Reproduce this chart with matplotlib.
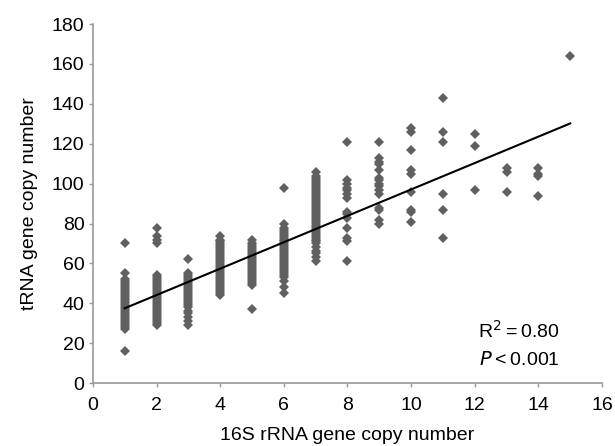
import matplotlib.pyplot as plt

plt.rcParams['font.family'] = ['Liberation Sans', 'DejaVu Sans']

# 16S rRNA copy number -> tRNA gene copy numbers
trna_by_16s = {
    1: [16, 27, 28, 29, 30, 31, 32, 33, 34, 35, 36, 37, 38, 39, 40, 41, 42,
        43, 44, 45, 46, 47, 48, 49, 50, 51, 52, 55, 70],
    2: [29, 30, 31, 32, 33, 34, 35, 36, 37, 38, 39, 40, 41, 42, 43, 44, 45,
        46, 47, 48, 49, 50, 51, 52, 53, 54, 70, 72, 74, 78],
    3: [29, 31, 33, 35, 36, 38, 39, 40, 41, 42, 43, 44, 45, 46, 47, 48, 49,
        50, 51, 52, 53, 54, 55, 62],
    4: [44, 45, 46, 47, 48, 49, 50, 51, 52, 53, 54, 55, 56, 57, 58, 59, 60,
        61, 62, 63, 64, 65, 66, 67, 68, 69, 70, 71, 72, 74],
    5: [37, 49, 50, 51, 52, 53, 54, 55, 56, 57, 58, 59, 60, 61, 62, 63, 64,
        65, 66, 67, 68, 69, 70, 72],
    6: [45, 48, 51, 53, 54, 55, 56, 57, 58, 59, 60, 61, 62, 63, 64, 65, 66,
        67, 68, 69, 70, 71, 72, 73, 74, 75, 76, 77, 78, 80, 98],
    7: [61, 63, 65, 66, 68, 70, 71, 72, 73, 74, 75, 76, 77, 78, 79, 80, 81,
        82, 83, 84, 85, 86, 87, 88, 89, 90, 91, 92, 93, 94, 95, 96, 97, 98,
        99, 100, 101, 102, 103, 104, 106],
    8: [61, 71, 73, 78, 83, 85, 86, 93, 95, 97, 98, 100, 102, 121],
    9: [80, 82, 87, 88, 95, 97, 99, 100, 102, 103, 107, 110, 111, 113, 121],
    10: [81, 86, 87, 96, 105, 107, 117, 126, 128],
    11: [73, 87, 95, 121, 126, 143],
    12: [97, 119, 125],
    13: [96, 106, 108],
    14: [94, 104, 105, 108],
    15: [164],
}

fit_slope = 6.62
fit_intercept = 30.9
fit_x = [1, 15]

fig = plt.figure(figsize=(6.15, 4.46), dpi=100)
ax = fig.add_axes([0.151, 0.141, 0.828, 0.805])

for copies, trna in trna_by_16s.items():
    ax.plot([copies] * len(trna), trna, linestyle='none', marker='D',
            markersize=5.5, color='#606060', markeredgewidth=0)

fit_y = [fit_intercept + fit_slope * x for x in fit_x]
ax.plot(fit_x, fit_y, color='black', linewidth=1.5)

ax.set_xlim(0, 16)
ax.set_ylim(0, 180)
ax.set_xticks(range(0, 17, 2))
ax.set_yticks(range(0, 181, 20))
for side in ('top', 'right'):
    ax.spines[side].set_visible(False)
for side in ('left', 'bottom'):
    ax.spines[side].set_color('#999999')
    ax.spines[side].set_linewidth(1.2)
ax.tick_params(direction='out', length=3, width=1, color='#999999',
               labelsize=14, labelcolor='black', pad=3)
ax.tick_params(axis='x', pad=7)

ax.set_xlabel('16S rRNA gene copy number', fontsize=14, labelpad=9)
ax.set_ylabel('tRNA gene copy number', fontsize=14, labelpad=10)

ax.text(0.917, 0.145, 'R$^2$\u2009=\u20090.80', transform=ax.transAxes,
        ha='right', va='center', fontsize=14)
ax.text(0.917, 0.063, '$P$\u2009<\u20090.001', transform=ax.transAxes,
        ha='right', va='center', fontsize=14)

fig.savefig('out.png', dpi=100)
